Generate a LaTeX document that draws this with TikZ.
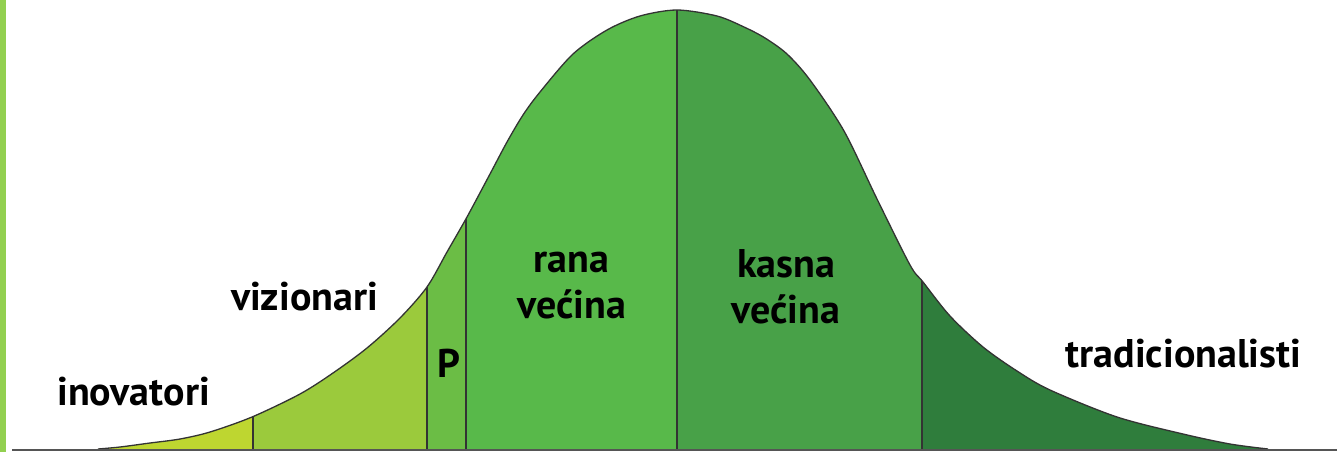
\documentclass[tikz,border=0pt]{standalone}
\usepackage{fontspec}
\setmainfont{PT Sans}
\definecolor{leftbar}{HTML}{92D050}
\definecolor{cInov}{HTML}{BED630}
\definecolor{cViz}{HTML}{9BCA3C}
\definecolor{cP}{HTML}{6BBD45}
\definecolor{cRana}{HTML}{58B94A}
\definecolor{cKasna}{HTML}{48A148}
\definecolor{cTrad}{HTML}{2F7D3C}
\definecolor{baseln}{HTML}{555555}
\begin{document}
\begin{tikzpicture}[x=1pt,y=-1pt,
  lbl/.style={font=\fontsize{40}{48}\selectfont\bfseries, inner sep=0pt, anchor=base, text=black},
  divider/.style={draw=black!80, line width=1.6pt},
  outline/.style={draw=black!80, line width=1.3pt, line join=round},
  axisline/.style={draw=baseln, line width=2.6pt}]
\useasboundingbox (0,0) rectangle (1337,452);
\fill[white] (0,0) rectangle (1337,452);
\fill[leftbar] (0,0) rectangle (6,452);
\begin{scope}
\clip plot[smooth,tension=0.5] coordinates {(98,449) (120,447) (150,443) (180,439) (210,432) (252,417) (300,394) (333,373) (367,348) (400,318) (427,287) (447,252) (467,217) (490,174) (507,142) (523,115) (540,92) (573,54) (607,30) (640,16) (677,10) (717,16) (744,27) (765,38) (787,54) (810,80) (844,131) (877,199) (910,265) (923,282) (950,316) (983,347) (1017,371) (1050,390) (1117,417) (1183,434) (1230,444) (1268,449)} -- cycle;
\fill[cInov] (0,0) rectangle (253,452);
\fill[cViz] (253,0) rectangle (427,452);
\fill[cP] (427,0) rectangle (466,452);
\fill[cRana] (466,0) rectangle (677,452);
\fill[cKasna] (677,0) rectangle (922,452);
\fill[cTrad] (922,0) rectangle (1337,452);
\draw[divider] (253,0) -- (253,452);
\draw[divider] (427,0) -- (427,452);
\draw[divider] (466,0) -- (466,452);
\draw[divider] (677,0) -- (677,452);
\draw[divider] (922,0) -- (922,452);
\end{scope}
\draw[outline] plot[smooth,tension=0.5] coordinates {(98,449) (120,447) (150,443) (180,439) (210,432) (252,417) (300,394) (333,373) (367,348) (400,318) (427,287) (447,252) (467,217) (490,174) (507,142) (523,115) (540,92) (573,54) (607,30) (640,16) (677,10) (717,16) (744,27) (765,38) (787,54) (810,80) (844,131) (877,199) (910,265) (923,282) (950,316) (983,347) (1017,371) (1050,390) (1117,417) (1183,434) (1230,444) (1268,449)};
\draw[axisline] (12,450) -- (1337,450);
\node[lbl] (inov) at (133.5,405) {inovatori};
\node[lbl] (viz) at (304.5,310) {vizionari};
\node[lbl] (p) at (449,377) {P};
\node[lbl] (rana1) at (571.5,272) {rana};
\node[lbl] (rana2) at (572,318) {većina};
\node[lbl] (kasna1) at (786,277) {kasna};
\node[lbl] (kasna2) at (786,323) {većina};
\node[lbl] (trad) at (1183.5,367) {tradicionalisti};
\end{tikzpicture}
\end{document}
